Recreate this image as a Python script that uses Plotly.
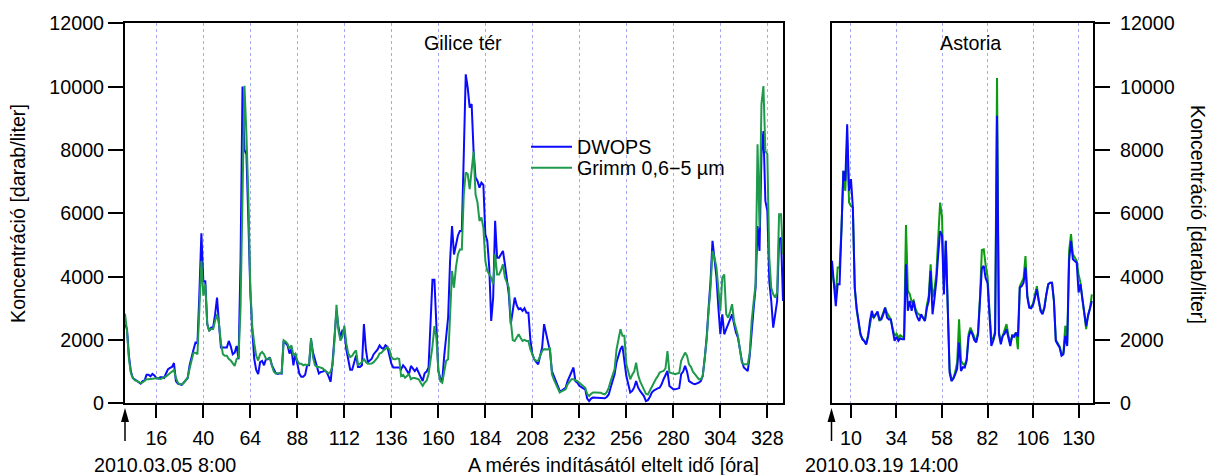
import plotly.graph_objects as go

# ---------------- data ----------------
# Gilice tér: hourly samples, hours 0..336 since 2010.03.05 8:00
gilice_hours = list(range(0, 337))
gilice_dwops = [
    2500, 2350, 1500, 1000, 800, 760, 720, 680, 620, 700,
    720, 900, 900, 850, 930, 880, 800, 780, 820, 820,
    800, 950, 1080, 1120, 1150, 1270, 700, 620, 600, 580,
    650, 720, 800, 1200, 1500, 1700, 1920, 1900, 3500, 5370,
    3860, 3850, 2500, 2280, 2390, 2400, 2800, 3340, 2500, 1760,
    1760, 1760, 1760, 1970, 1800, 1550, 1600, 1810, 1390, 4500,
    10000, 8000, 7870, 5760, 3500, 2300, 1400, 1050, 920, 1300,
    1340, 1200, 1400, 1390, 1450, 1200, 1050, 950, 930, 950,
    940, 1970, 1900, 1830, 1570, 1720, 1200, 1570, 1250, 940,
    840, 840, 900, 1200, 1200, 2000, 1600, 1360, 1100, 940,
    990, 1000, 1040, 980, 840, 680, 1300, 2000, 2920, 2400,
    2090, 2300, 2300, 1700, 1360, 1060, 1060, 1300, 1510, 1150,
    1150, 1200, 2500, 1700, 1300, 1350, 1410, 1550, 1620, 1700,
    1830, 1750, 1720, 1830, 1780, 1500, 1250, 1130, 1130, 1150,
    1130, 1070, 1200, 1130, 1000, 920, 1180, 1100, 1020, 1100,
    970, 850, 700, 950, 1000, 1130, 2500, 3900, 3900, 2600,
    1020, 800, 700, 1500, 2070, 2710, 4500, 5600, 4700, 5000,
    5300, 5440, 5440, 7870, 10390, 9970, 9340, 9450, 7970, 7130,
    7020, 6810, 6970, 6900, 5340, 5130, 4290, 2600, 3340, 5760,
    4600, 4600, 4700, 4810, 4390, 3900, 3440, 2500, 2900, 3340,
    3100, 2970, 3000, 2920, 3000, 2860, 2860, 2000, 1550, 1390,
    1300, 1230, 1500, 1760, 2500, 2230, 2000, 1650, 1020, 850,
    700, 550, 390, 400, 450, 490, 700, 860, 970, 1130,
    700, 650, 550, 500, 470, 440, 150, 70, 150, 180,
    180, 170, 180, 170, 160, 160, 200, 280, 500, 700,
    920, 1300, 1550, 1710, 1810, 1230, 860, 600, 340, 390,
    500, 700, 500, 390, 300, 230, 70, 100, 200, 340,
    400, 450, 470, 490, 600, 760, 900, 1020, 550, 500,
    440, 440, 450, 480, 920, 1000, 1180, 1000, 700, 650,
    620, 600, 620, 650, 700, 860, 1400, 2070, 3000, 3860,
    5130, 4500, 4000, 3020, 2180, 2810, 2180, 2340, 2500, 2700,
    2810, 2500, 2230, 2070, 1700, 1340, 1130, 1070, 1020, 1500,
    2390, 3000, 3650, 5600, 4810, 7870, 8600, 6390, 6080, 3860,
    3230, 2390, 2800, 3230, 5180, 5230, 3230,
]
gilice_grimm = [
    2830, 2300, 1400, 950, 800, 730, 700, 680, 640, 660,
    720, 760, 760, 770, 780, 780, 780, 800, 760, 790,
    800, 850, 900, 950, 980, 1050, 800, 650, 600, 600,
    650, 720, 800, 1100, 1400, 1600, 1600, 1550, 3000, 4500,
    3400, 3760, 2500, 2300, 2350, 2350, 2600, 2810, 2500, 1900,
    1550, 1500, 1500, 1400, 1350, 1250, 1180, 1400, 1450, 3000,
    7000, 10030, 8500, 6500, 3650, 2400, 1900, 1500, 1350, 1560,
    1620, 1550, 1400, 1400, 1420, 1200, 1000, 940, 950, 960,
    960, 1990, 1950, 1880, 1720, 1830, 1510, 1570, 1350, 1250,
    1250, 1200, 1220, 1200, 1250, 2060, 1450, 1200, 1150, 1150,
    1130, 1100, 1040, 1000, 940, 1000, 1200, 2000, 3110, 2300,
    1980, 2100, 2450, 1900, 1570, 1460, 1500, 1600, 1670, 1200,
    1250, 1300, 1410, 1300, 1250, 1250, 1260, 1300, 1360, 1450,
    1570, 1600, 1670, 1720, 1770, 1700, 1460, 1400, 1390, 1420,
    1400, 860, 900, 810, 870, 920, 760, 800, 800, 780,
    760, 650, 550, 650, 710, 920, 1300, 1800, 2440, 2070,
    1050, 700, 650, 1000, 1340, 1390, 3000, 4180, 3650, 4300,
    4700, 4860, 4860, 6600, 7290, 7240, 6760, 7290, 7950, 6600,
    6340, 5760, 5870, 5550, 4500, 4180, 4070, 3970, 3760, 4710,
    4070, 4070, 4200, 4390, 3970, 3800, 3650, 2600, 2000, 1970,
    2100, 2180, 2070, 1970, 2000, 1970, 1970, 1700, 1550, 1390,
    1340, 1340, 1500, 1650, 1710, 1710, 1700, 1760, 920, 750,
    600, 450, 340, 380, 420, 440, 600, 700, 760, 760,
    740, 700, 650, 600, 550, 490, 300, 230, 300, 340,
    340, 340, 340, 330, 300, 280, 350, 490, 700, 900,
    1070, 1700, 1970, 2340, 2130, 2130, 1230, 1000, 760, 900,
    1000, 1280, 900, 700, 550, 440, 300, 280, 400, 550,
    650, 760, 850, 970, 1000, 1020, 1100, 1650, 970, 950,
    920, 920, 940, 960, 1340, 1450, 1600, 1500, 1230, 1150,
    1000, 920, 850, 760, 760, 860, 1400, 2000, 2900, 3650,
    4810, 4600, 4300, 3500, 2920, 3970, 4070, 2810, 2700, 2900,
    3130, 2600, 2390, 2130, 1700, 1280, 1230, 1230, 1230, 1600,
    2600, 3200, 3760, 8180, 5550, 9450, 10020, 7970, 7870, 4600,
    3650, 3440, 3340, 3500, 5970, 5970, 4710,
]

# Astoria: hourly samples, hours 0..137 since 2010.03.19 14:00
astoria_hours = list(range(0, 138))
astoria_dwops = [
    4500, 3800, 3070, 3760, 3760, 5500, 7340, 7020, 8810, 6710,
    7080, 6180, 3650, 3000, 2600, 2200, 2020, 1970, 1860, 2100,
    2600, 2920, 2710, 2800, 2900, 2650, 2650, 2800, 3020, 2710,
    2650, 2650, 2290, 1970, 2100, 1970, 2050, 2020, 2020, 4390,
    2920, 3230, 2920, 3230, 2900, 2710, 2600, 2810, 2700, 2600,
    3000, 3230, 4180, 2810, 3300, 3860, 4700, 5440, 5300, 3440,
    5130, 3000, 970, 700, 780, 920, 1100, 1920, 1020, 1140,
    1130, 1350, 2080, 2290, 2180, 2000, 1920, 2180, 3170, 4260,
    4340, 3950, 3800, 2920, 1810, 1980, 2200, 9080, 2180, 1860,
    2130, 2200, 2340, 2070, 1810, 2130, 2100, 2230, 2100, 3650,
    3700, 3810, 4290, 3340, 3020, 3000, 3100, 3340, 3600, 3230,
    2900, 2810, 3020, 3440, 3760, 3810, 3810, 3230, 1970, 1860,
    1760, 1500, 1550, 2130, 1810, 4500, 5130, 4550, 4500, 4440,
    3500, 3760, 3300, 2920, 2440, 2760, 3000, 3230,
]
astoria_grimm = [
    4200, 3700, 3400, 4290, 4290, 5500, 7340, 6710, 8300, 6340,
    6230, 6180, 3650, 2950, 2550, 2150, 2050, 1980, 1880, 2150,
    2550, 2800, 2700, 2800, 2850, 2600, 2700, 2900, 3020, 2860,
    2750, 2650, 2350, 2130, 2200, 2070, 2150, 2100, 2100, 5630,
    3550, 3450, 3200, 3250, 3000, 2850, 2800, 2750, 2700, 2600,
    3100, 3400, 4390, 3340, 3600, 4070, 5200, 6340, 5900, 3600,
    5130, 3000, 1070, 750, 800, 1000, 1300, 2650, 1340, 1250,
    1200, 1400, 2180, 2390, 2250, 2100, 1950, 2250, 3330, 4840,
    4860, 4370, 4000, 2950, 2080, 2000, 2300, 10270, 2250, 1950,
    2150, 2300, 2500, 2150, 1900, 2150, 2150, 2230, 1710, 3700,
    3850, 3950, 4650, 3400, 3050, 3050, 3150, 3450, 3700, 3250,
    2950, 2850, 3050, 3440, 3760, 3810, 3810, 3230, 2000, 1900,
    1800, 1550, 1600, 2450, 1900, 4810, 5340, 4710, 4600, 4500,
    4070, 3800, 3300, 2900, 2340, 2800, 3000, 3440,
]

gilice_ticks = [16, 40, 64, 88, 112, 136, 160, 184, 208, 232, 256, 280, 304, 328]
astoria_ticks = [10, 34, 58, 82, 106, 130]
y_ticks = [0, 2000, 4000, 6000, 8000, 10000, 12000]

assert len(gilice_dwops) == len(gilice_hours) == len(gilice_grimm)
assert len(astoria_dwops) == len(astoria_hours) == len(astoria_grimm)

# ---------------- styling ----------------
W, H = 1212, 475
BLUE = "#0a0aff"
GREEN_L = "#1f9a4c"
GREEN_R = "#0c9c10"
GRID = "#a9a9f0"
FONT = "Liberation Sans, Arial, sans-serif"
FS = 19.7

def px_x(p):
    return p / W

def px_y(p):
    return 1 - p / H

fig = go.Figure()
fig.add_trace(go.Scatter(x=gilice_hours, y=gilice_dwops, mode="lines", name="DWOPS",
                         line=dict(color=BLUE, width=2), xaxis="x", yaxis="y", legend="legend"))
fig.add_trace(go.Scatter(x=gilice_hours, y=gilice_grimm, mode="lines", name="Grimm 0,6\u22125 \u00b5m",
                         line=dict(color=GREEN_L, width=2), xaxis="x", yaxis="y", legend="legend2"))
fig.add_trace(go.Scatter(x=astoria_hours, y=astoria_grimm, mode="lines", showlegend=False,
                         line=dict(color=GREEN_R, width=2), xaxis="x2", yaxis="y2"))
fig.add_trace(go.Scatter(x=astoria_hours, y=astoria_dwops, mode="lines", showlegend=False,
                         line=dict(color=BLUE, width=2), xaxis="x2", yaxis="y2"))

ydom = [px_y(403.3), px_y(23.3)]
common_x = dict(ticks="outside", ticklen=13, tickwidth=1.5, tickcolor="black",
                showline=True, linewidth=2, linecolor="black", mirror=True,
                showgrid=True, gridcolor=GRID, griddash="dot", gridwidth=1,
                zeroline=False, tickfont=dict(size=FS, color="black"), ticklabelstandoff=3,
                automargin=False)
common_y = dict(range=[0, 12000], tickvals=y_ticks, tickformat="d", ticks="outside", ticklen=15,
                tickwidth=1.5, tickcolor="black", showline=True, linewidth=2, linecolor="black",
                mirror=True, showgrid=False, zeroline=False, automargin=False,
                tickfont=dict(size=FS, color="black"), domain=ydom)

leg_common = dict(xanchor="left", yanchor="middle", bgcolor="rgba(0,0,0,0)",
                  font=dict(size=FS), itemwidth=41)
fig.update_layout(
    width=W, height=H, autosize=False,
    margin=dict(l=0, r=0, t=0, b=0, pad=0, autoexpand=False),
    paper_bgcolor="white", plot_bgcolor="white",
    font=dict(family=FONT, size=FS, color="black"),
    xaxis=dict(domain=[px_x(125), px_x(783)], range=[0, 336], tickvals=gilice_ticks,
               anchor="y", **common_x),
    yaxis=dict(anchor="x", side="left", **common_y),
    xaxis2=dict(domain=[px_x(832), px_x(1093)], range=[0, 137.6], tickvals=astoria_ticks,
                anchor="y2", **common_x),
    yaxis2=dict(anchor="x2", side="right", ticklabelstandoff=6, **common_y),
    legend=dict(x=px_x(526), y=px_y(147), **leg_common),
    legend2=dict(x=px_x(526), y=px_y(168), **leg_common),
    showlegend=True,
)

annotations = [
    dict(text="Gilice tér", x=px_x(463), y=px_y(43), xref="paper", yref="paper",
         showarrow=False, xanchor="center", yanchor="middle"),
    dict(text="Astoria", x=px_x(970), y=px_y(43), xref="paper", yref="paper",
         showarrow=False, xanchor="center", yanchor="middle"),
    dict(text="Koncentráció [darab/liter]", x=px_x(18), y=px_y(214), xref="paper", yref="paper",
         showarrow=False, textangle=-90, xanchor="center", yanchor="middle"),
    dict(text="Koncentráció [darab/liter]", x=px_x(1198), y=px_y(214), xref="paper", yref="paper",
         showarrow=False, textangle=90, xanchor="center", yanchor="middle"),
    dict(text="2010.03.05 8:00", x=px_x(165), y=px_y(465), xref="paper", yref="paper",
         showarrow=False, xanchor="center", yanchor="middle"),
    dict(text="A mérés indításától eltelt idő [óra]", x=px_x(613), y=px_y(465), xref="paper",
         yref="paper", showarrow=False, xanchor="center", yanchor="middle"),
    dict(text="2010.03.19 14:00", x=px_x(881), y=px_y(465), xref="paper", yref="paper",
         showarrow=False, xanchor="center", yanchor="middle"),
]
fig.update_layout(annotations=annotations)

# start-of-measurement arrows at the left edge (hour 0) of each panel
shapes = []
for px_left in [125, 831.5]:
    xp = px_x(px_left)
    shapes.append(dict(type="line", xref="paper", yref="paper", x0=xp, x1=xp,
                       y0=px_y(441), y1=px_y(420), line=dict(color="black", width=1.5)))
    shapes.append(dict(type="path", xref="paper", yref="paper", xsizemode="pixel", ysizemode="pixel",
                       xanchor=xp, yanchor=px_y(408), path="M0,0 L-4,-14 L4,-14 Z",
                       fillcolor="black", line=dict(width=0)))
fig.update_layout(shapes=shapes)

fig.write_html("out.html")
